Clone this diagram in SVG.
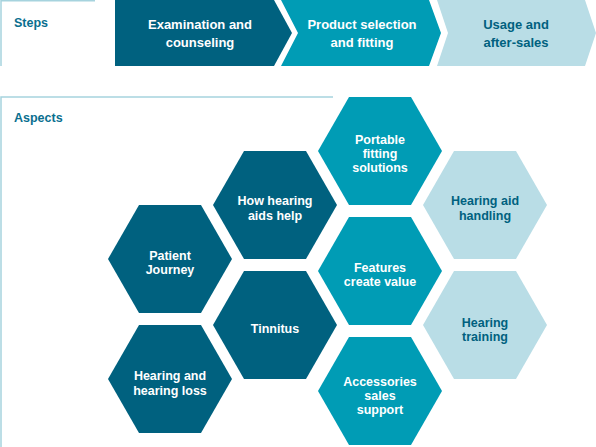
<svg xmlns="http://www.w3.org/2000/svg" xmlns:xlink="http://www.w3.org/1999/xlink" width="596" height="447" viewBox="0 0 596 447">
<style>
  .dark { fill: #00617f; }
  .mid { fill: #009cb5; }
  .light { fill: #b9dde6; }
  .frame { stroke: #a6d3de; stroke-width: 1.5; fill: none; }
  text { font-family: "Liberation Sans", Arial, sans-serif; font-weight: bold; text-anchor: middle; }
  .head { font-size: 12.5px; fill: #0a6f8f; text-anchor: start; }
  .step { font-size: 13px; }
  .hx { font-size: 12.5px; }
  .w { fill: #ffffff; }
  .d { fill: #00617f; }
</style>
<defs>
  <polygon id="hex" points="-62,0 -31,-54 31,-54 62,0 31,54 -31,54"/>
</defs>
<rect width="596" height="447" fill="#ffffff"/>

<g id="steps-frame">
  <path class="frame" d="M1,66 V0.75 H95"/>
  <text class="head" x="14" y="27">Steps</text>
</g>

<g id="step-1">
  <polygon class="dark" points="115,0 274,0 292,33 274,66 115,66"/>
  <text class="step w" x="200" y="29">Examination and</text>
  <text class="step w" x="200" y="47">counseling</text>
</g>
<g id="step-2">
  <polygon class="mid" points="281,0 429,0 441,33 429,66 281,66 298,33"/>
  <text class="step w" x="362" y="29">Product selection</text>
  <text class="step w" x="362" y="47">and fitting</text>
</g>
<g id="step-3">
  <polygon class="light" points="437,0 585,0 596,33 585,66 437,66 448,33"/>
  <text class="step d" x="516" y="29">Usage and</text>
  <text class="step d" x="516" y="47">after-sales</text>
</g>

<g id="aspects-frame">
  <path class="frame" d="M1,447 V97 H333"/>
  <text class="head" x="14" y="122">Aspects</text>
</g>

<g id="connectors"></g>

<g id="patient-journey">
  <use xlink:href="#hex" href="#hex" class="dark" x="170" y="259"/>
  <text class="hx w" x="170" y="260">Patient</text>
  <text class="hx w" x="170" y="274">Journey</text>
</g>
<g id="hearing-loss">
  <use xlink:href="#hex" href="#hex" class="dark" x="170" y="379"/>
  <text class="hx w" x="170" y="380">Hearing and</text>
  <text class="hx w" x="170" y="394.5">hearing loss</text>
</g>
<g id="how-hearing-aids-help">
  <use xlink:href="#hex" href="#hex" class="dark" x="275" y="205"/>
  <text class="hx w" x="275" y="205">How hearing</text>
  <text class="hx w" x="275" y="219.5">aids help</text>
</g>
<g id="tinnitus">
  <use xlink:href="#hex" href="#hex" class="dark" x="275" y="325"/>
  <text class="hx w" x="275" y="333">Tinnitus</text>
</g>
<g id="portable-fitting">
  <use xlink:href="#hex" href="#hex" class="mid" x="380" y="151"/>
  <text class="hx w" x="380" y="144">Portable</text>
  <text class="hx w" x="380" y="158">fitting</text>
  <text class="hx w" x="380" y="172">solutions</text>
</g>
<g id="features-create-value">
  <use xlink:href="#hex" href="#hex" class="mid" x="380" y="271"/>
  <text class="hx w" x="380" y="272">Features</text>
  <text class="hx w" x="380" y="285.5">create value</text>
</g>
<g id="accessories-sales-support">
  <use xlink:href="#hex" href="#hex" class="mid" x="380" y="391"/>
  <text class="hx w" x="380" y="386">Accessories</text>
  <text class="hx w" x="380" y="400">sales</text>
  <text class="hx w" x="380" y="414">support</text>
</g>
<g id="hearing-aid-handling">
  <use xlink:href="#hex" href="#hex" class="light" x="485" y="205"/>
  <text class="hx d" x="485" y="205">Hearing aid</text>
  <text class="hx d" x="485" y="220">handling</text>
</g>
<g id="hearing-training">
  <use xlink:href="#hex" href="#hex" class="light" x="485" y="325"/>
  <text class="hx d" x="485" y="327">Hearing</text>
  <text class="hx d" x="485" y="341">training</text>
</g>
</svg>
